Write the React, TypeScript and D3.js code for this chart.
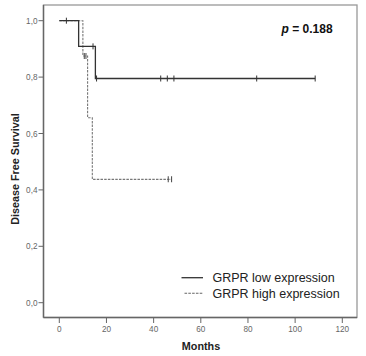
import React from "react";
import * as d3 from "d3";

// Kaplan-Meier steps: [month, survival]
const lowSteps: [number, number][] = [
  [0, 1.0],
  [8.2, 0.909],
  [15.3, 0.795],
  [108.5, 0.795],
];
const lowCensors: [number, number][] = [
  [3, 1.0],
  [14.3, 0.909],
  [15.8, 0.795],
  [43, 0.795],
  [45.8, 0.795],
  [48.6, 0.795],
  [83.7, 0.795],
  [108.5, 0.795],
];
const highSteps: [number, number][] = [
  [0, 1.0],
  [10, 0.875],
  [12, 0.656],
  [14, 0.4375],
  [47.6, 0.4375],
];
const highCensors: [number, number][] = [
  [10.6, 0.875],
  [11.3, 0.875],
  [46.2, 0.4375],
  [47.6, 0.4375],
];
const xTicks = [0, 20, 40, 60, 80, 100, 120];
const yTicks = [0, 0.2, 0.4, 0.6, 0.8, 1.0];
const legendLabels = ["GRPR low expression", "GRPR high expression"];
const pText = "= 0.188";

export default function App() {
  const x = d3.scaleLinear().domain([0, 120]).range([59.3, 342.3]);
  const y = d3.scaleLinear().domain([0, 1]).range([302.7, 20.7]);
  const left = 43.5, right = 357, top = 5, bottom = 317.5;

  const line = d3
    .line<[number, number]>()
    .x((d) => x(d[0]))
    .y((d) => y(d[1]))
    .curve(d3.curveStepAfter);

  const fmt = (v: number) => v.toFixed(1).replace(".", ",");
  const font = "Liberation Sans, Arial, sans-serif";

  return (
    <svg
      width={366}
      height={356}
      style={{ position: "absolute", left: 0, top: 0 }}
      fontFamily={font}
    >
      <rect x={0} y={0} width={366} height={356} fill="#fff" />
      {/* frame */}
      <rect
        x={left}
        y={top}
        width={right - left}
        height={bottom - top}
        fill="none"
        stroke="#999"
        strokeWidth={1.3}
      />
      <line x1={left} x2={left} y1={top} y2={bottom} stroke="#666" strokeWidth={1.4} />
      <line x1={left} x2={right} y1={bottom} y2={bottom} stroke="#666" strokeWidth={1.4} />
      {/* y ticks */}
      {yTicks.map((t) => (
        <g key={t}>
          <line x1={38.5} x2={left} y1={y(t)} y2={y(t)} stroke="#666" strokeWidth={1} />
          <text x={37.5} y={y(t) + 3} fontSize={8.2} fill="#666" textAnchor="end">
            {fmt(t)}
          </text>
        </g>
      ))}
      {/* x ticks */}
      {xTicks.map((t) => (
        <g key={t}>
          <line x1={x(t)} x2={x(t)} y1={bottom} y2={bottom + 5.5} stroke="#666" strokeWidth={1} />
          <text x={x(t)} y={bottom + 14.5} fontSize={8.2} fill="#666" textAnchor="middle">
            {t}
          </text>
        </g>
      ))}
      {/* axis titles */}
      <text
        transform={`translate(18.5,169) rotate(-90)`}
        textAnchor="middle"
        fontSize={10.8}
        fontWeight="bold"
        fill="#222"
      >
        Disease Free Survival
      </text>
      <text x={201} y={349.5} textAnchor="middle" fontSize={10.8} fontWeight="bold" fill="#222">
        Months
      </text>
      {/* curves */}
      <path
        d={line(highSteps) || ""}
        fill="none"
        stroke="#777"
        strokeWidth={1.1}
        strokeDasharray="2.5,1.2"
      />
      {highCensors.map((c, i) => (
        <line
          key={"hc" + i}
          x1={x(c[0])}
          x2={x(c[0])}
          y1={y(c[1]) - 3}
          y2={y(c[1]) + 3}
          stroke="#555"
          strokeWidth={1.1}
        />
      ))}
      <path d={line(lowSteps) || ""} fill="none" stroke="#333" strokeWidth={1.3} />
      {lowCensors.map((c, i) => (
        <line
          key={"lc" + i}
          x1={x(c[0])}
          x2={x(c[0])}
          y1={y(c[1]) - 3}
          y2={y(c[1]) + 3}
          stroke="#333"
          strokeWidth={1}
        />
      ))}
      {/* p value */}
      <text x={281.5} y={32.5} fontSize={12} fontWeight="bold" fill="#111">
        <tspan fontStyle="italic">p</tspan> {pText}
      </text>
      {/* legend */}
      <line x1={181.5} x2={203} y1={277.7} y2={277.7} stroke="#333" strokeWidth={1.3} />
      <text x={212.5} y={282} fontSize={12.5} fill="#222">
        {legendLabels[0]}
      </text>
      <line
        x1={184.5}
        x2={203}
        y1={293.3}
        y2={293.3}
        stroke="#666"
        strokeWidth={1.1}
        strokeDasharray="2.6,1.2"
      />
      <text x={212.5} y={297.7} fontSize={12.5} fill="#222">
        {legendLabels[1]}
      </text>
    </svg>
  );
}
